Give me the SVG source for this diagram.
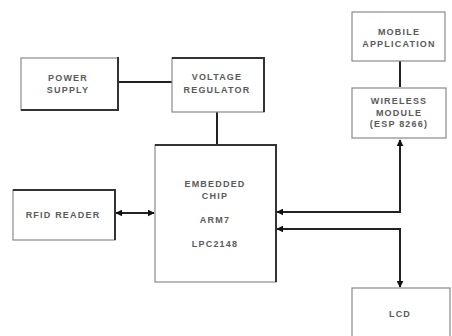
<svg xmlns="http://www.w3.org/2000/svg" width="452" height="336" viewBox="0 0 452 336">
<style>
.box{fill:#fff;stroke:#8a8a8a;stroke-width:1.2}
.edge{stroke:#333;stroke-width:2;fill:none}
.lbl{font-family:"Liberation Sans",Arial,sans-serif;font-weight:bold;font-size:9px;letter-spacing:1.2px;fill:#5a5a5a;text-anchor:middle}
.conn{stroke:#222;stroke-width:2;fill:none}
</style>
<defs>
<marker id="ah" viewBox="0 0 10 10" refX="9" refY="5" markerWidth="3.5" markerHeight="3.5" orient="auto-start-reverse" markerUnits="strokeWidth">
<path d="M0,0 L10,5 L0,10 z" fill="#111"/>
</marker>
</defs>
<rect width="452" height="336" fill="#fff"/>
<g id="connectors">
<line class="conn" x1="118" y1="82" x2="172" y2="82"/>
<line class="conn" x1="217" y1="112" x2="217" y2="145"/>
<line class="conn" x1="400" y1="61" x2="400" y2="87"/>
<line class="conn" x1="116" y1="213" x2="154" y2="213" marker-start="url(#ah)" marker-end="url(#ah)"/>
<polyline class="conn" points="277,212 400,212 400,140" marker-start="url(#ah)" marker-end="url(#ah)"/>
<polyline class="conn" points="277,229 400,229 400,287" marker-start="url(#ah)" marker-end="url(#ah)"/>
</g>
<g id="power-supply">
<rect class="box" x="21" y="58" width="97" height="52"/>
<polyline class="edge" points="118,57 118,110 21,110"/>
<text class="lbl" x="68" y="80.5">POWER</text>
<text class="lbl" x="68" y="93">SUPPLY</text>
</g>
<g id="voltage-regulator">
<rect class="box" x="172" y="58" width="92" height="54"/>
<polyline class="edge" points="172,58 264,58 264,112"/>
<text class="lbl" x="217" y="80">VOLTAGE</text>
<text class="lbl" x="217" y="92.5">REGULATOR</text>
</g>
<g id="mobile-application">
<rect class="box" x="352" y="12" width="93" height="49"/>
<text class="lbl" x="399" y="34.5">MOBILE</text>
<text class="lbl" x="399" y="46.5">APPLICATION</text>
</g>
<g id="wireless-module">
<rect class="box" x="352" y="88" width="94" height="50"/>
<text class="lbl" x="399" y="103.5">WIRELESS</text>
<text class="lbl" x="399" y="115.5">MODULE</text>
<text class="lbl" x="399" y="127">(ESP 8266)</text>
</g>
<g id="embedded-chip">
<rect class="box" x="155" y="145" width="121" height="137"/>
<polyline class="edge" points="155,145 276,145 276,282"/>
<text class="lbl" x="215" y="186.5">EMBEDDED</text>
<text class="lbl" x="215" y="198.5">CHIP</text>
<text class="lbl" x="215" y="222.5">ARM7</text>
<text class="lbl" x="215" y="246.5">LPC2148</text>
</g>
<g id="rfid-reader">
<rect class="box" x="13" y="190" width="102" height="50"/>
<polyline class="edge" points="13,190 115,190 115,240"/>
<text class="lbl" x="63" y="217.5">RFID READER</text>
</g>
<g id="lcd">
<rect class="box" x="352" y="288" width="98" height="60"/>
<text class="lbl" x="400" y="316.5">LCD</text>
</g>
</svg>
